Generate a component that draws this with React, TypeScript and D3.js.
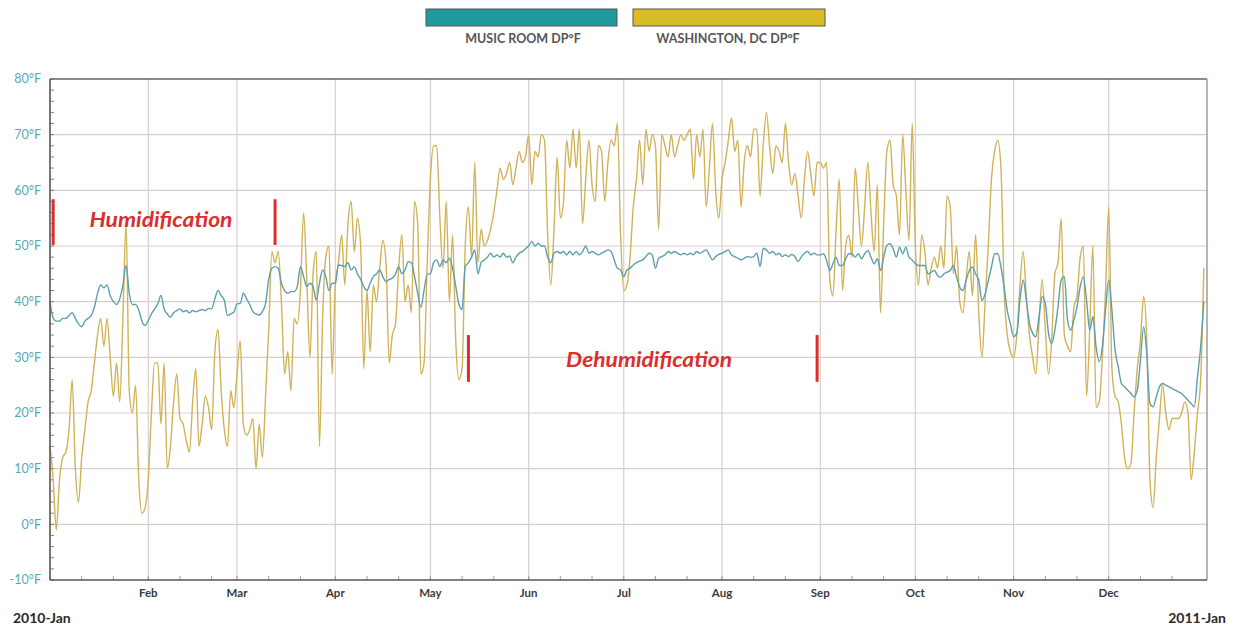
import React from 'react'
import * as d3 from 'd3'

// daily dew point readings, 2010 (°F)
const dcJan = [14, 8, -1, 8, 12, 13, 17, 26, 10, 4, 12, 17, 22, 24, 29, 34, 37, 32, 37, 30, 23, 29, 22, 37, 54, 24, 20, 25, 8, 2, 3]
const dcFeb = [8, 20, 29, 29, 18, 29, 10, 14, 22, 27, 19, 18, 15, 13, 22, 28, 14, 18, 23, 21, 17, 31, 35, 24, 17, 14, 24, 21]
const dcMar = [27, 33, 18, 16, 17, 19, 10, 18, 12, 23, 35, 49, 47, 49, 40, 27, 31, 24, 37, 36, 42, 56, 44, 30, 45, 49, 14, 37, 48, 50, 27]
const dcApr = [43, 47, 52, 43, 54, 58, 49, 55, 50, 28, 42, 31, 43, 40, 46, 51, 47, 29, 34, 36, 46, 52, 40, 43, 38, 58, 54, 27, 29, 47]
const dcMay = [62, 68, 68, 55, 46, 58, 40, 52, 33, 26, 28, 50, 57, 48, 65, 47, 53, 50, 51, 53, 56, 60, 64, 62, 63, 65, 61, 64, 67, 65, 66]
const dcJun = [70, 61, 67, 66, 70, 69, 52, 43, 53, 66, 55, 58, 69, 64, 71, 64, 71, 54, 62, 69, 61, 58, 68, 67, 58, 65, 69, 68, 72, 52]
const dcJul = [42, 43, 48, 57, 62, 69, 61, 71, 67, 70, 68, 53, 70, 68, 66, 70, 66, 68, 70, 69, 70, 71, 62, 70, 66, 71, 57, 64, 72, 60, 55]
const dcAug = [62, 65, 69, 73, 67, 69, 57, 65, 68, 66, 71, 71, 59, 68, 74, 68, 63, 68, 67, 65, 72, 65, 61, 63, 59, 55, 62, 67, 63, 59, 65]
const dcSep = [65, 64, 65, 44, 41, 53, 62, 42, 50, 52, 48, 64, 57, 50, 57, 65, 56, 49, 61, 38, 54, 67, 69, 61, 59, 52, 70, 60, 51, 72]
const dcOct = [50, 43, 52, 49, 43, 46, 48, 46, 50, 46, 59, 57, 45, 50, 40, 38, 44, 49, 41, 52, 38, 30, 40, 50, 62, 67, 69, 64, 42, 34, 31]
const dcNov = [30, 34, 43, 49, 41, 34, 30, 27, 36, 44, 35, 27, 33, 45, 47, 55, 34, 32, 31, 39, 41, 48, 50, 23, 35, 50, 21, 22, 30, 42]
const dcDec = [57, 28, 23, 22, 18, 12, 10, 11, 20, 28, 33, 41, 33, 8, 3, 12, 19, 25, 20, 17, 19, 19, 19, 20, 22, 20, 8, 13, 20, 26, 46]

const roomJan = [40, 37, 36.5, 36.5, 37, 37, 37.5, 38, 37, 36, 35.5, 36.5, 37, 37.5, 39, 41.5, 43, 42.5, 43, 41, 40, 39.5, 40.5, 43, 46.5, 41.5, 39.5, 39.5, 38.5, 36.5, 35.7]
const roomFeb = [36.6, 37.8, 38.7, 39.6, 41.1, 38.7, 37.8, 37.2, 38, 38.4, 38.7, 38.2, 38.4, 38, 38.4, 38.2, 38.4, 38.6, 38.4, 38.8, 38.7, 40.5, 42, 41.1, 40.2, 37.5, 37.8, 38.1]
const roomMar = [39.6, 39.7, 41.5, 40.5, 39.5, 38.2, 37.8, 37.6, 38.2, 39.7, 44, 46, 46.3, 46, 43.3, 42, 41.5, 41.8, 41.8, 42.7, 46.3, 44.5, 42.7, 43.3, 42.7, 40.3, 43.3, 45.7, 44.5, 42, 43.3]
const roomApr = [43.3, 46.6, 46.5, 46.3, 47, 45.7, 46.3, 45, 44, 42.7, 42, 43.3, 44.5, 45, 45.7, 44.5, 43.6, 44, 44.2, 45, 46.3, 45, 45.7, 47.2, 47, 44.5, 41.5, 39, 42, 45]
const roomMay = [45, 47, 47.5, 46.3, 47.5, 47, 47.8, 46, 42.8, 39.5, 38.6, 46.3, 47, 48, 49.3, 45, 47, 47.5, 48, 48.7, 48, 48.4, 48, 48.7, 48, 48.2, 47, 48, 48.7, 49, 49.5]
const roomJun = [50, 50.8, 50, 50.5, 50, 50, 48, 47, 48.7, 49, 48.7, 49, 48.4, 49, 48.4, 49, 48.4, 49, 50, 48.7, 49, 48.7, 48.4, 48.7, 49, 49.3, 49, 47.5, 46, 45.7]
const roomJul = [44.5, 45.7, 46, 46.6, 47, 47.3, 47.5, 48.1, 48.7, 48.4, 46, 47.8, 48.1, 48.4, 49, 48.7, 49, 48.7, 48.4, 48.7, 48.4, 48.7, 48.4, 49, 48.7, 49, 49.3, 48.4, 47.5, 48.1, 48.5]
const roomAug = [48.7, 49, 49.3, 48.4, 48.1, 47.8, 47.5, 47.8, 48.1, 48, 48.1, 48.7, 46.3, 49.6, 49.3, 48.7, 49, 48.4, 48.7, 48.1, 48.4, 48.1, 48.5, 48.1, 47.2, 48, 48.7, 49, 48.4, 48.7, 48.4]
const roomSep = [48.4, 48.6, 47.4, 45.6, 46.8, 48, 46.5, 46.5, 47.7, 48.6, 48.6, 48, 48.6, 47.7, 48.6, 49.2, 48, 46.8, 47.7, 45.6, 48, 50.1, 50.4, 49.5, 48, 49.8, 48.6, 49.8, 48, 47.5]
const roomOct = [46.8, 46.5, 46.5, 46.5, 45, 45.3, 45.6, 44.7, 44.4, 45, 45.3, 45.6, 46.5, 44.4, 42.6, 42, 43.8, 45.6, 46.2, 45, 43.8, 40.2, 41.4, 43.8, 46.2, 48.6, 48.6, 46.2, 42.6, 38.4, 36]
const roomNov = [33.7, 34.3, 40.3, 43.9, 40.3, 36.1, 34.3, 33.7, 37.3, 40.9, 39.7, 34.3, 32.5, 34.9, 39.1, 43.9, 44.5, 36.7, 34.9, 36.7, 39.1, 42.7, 44.5, 40.3, 34.9, 37.3, 31.9, 29.2, 31.9, 38.5]
const roomDec = [43.9, 38.5, 31.3, 28.3, 25.3, 24.7, 24.1, 23.5, 22.9, 24.1, 29.5, 35.5, 30.7, 21.7, 21.1, 22.9, 24.7, 25.3, 25, 24.7, 24.4, 24.1, 23.8, 23.5, 22.9, 22.3, 21.7, 21.1, 26.5, 31.9, 40]

const seriesNames = ['MUSIC ROOM DP°F', 'WASHINGTON, DC DP°F']
const yTicks = [-10, 0, 10, 20, 30, 40, 50, 60, 70, 80]
const startLabel = '2010-Jan'
const endLabel = '2011-Jan'

// annotation spans: [date, low °F, high °F]
const humidMarks = [['2010-01-02', 50.2, 58.4], ['2010-03-13', 50.2, 58.4]]
const dehumidMarks = [['2010-05-13', 25.6, 34], ['2010-08-31', 25.6, 34]]
const humidLabel = ['Humidification', '2010-02-05', 53.5]
const dehumidLabel = ['Dehumidification', '2010-07-09', 28.3]

const W = 1237
const H = 627
const FONT = 'Lato, "Open Sans", sans-serif'

const App = () => {
  const start = new Date(Date.UTC(2010, 0, 1))
  const end = new Date(Date.UTC(2011, 0, 1))
  const days = d3.utcDay.range(start, end)
  const dc = [...dcJan, ...dcFeb, ...dcMar, ...dcApr, ...dcMay, ...dcJun, ...dcJul, ...dcAug, ...dcSep, ...dcOct, ...dcNov, ...dcDec]
  const room = [...roomJan, ...roomFeb, ...roomMar, ...roomApr, ...roomMay, ...roomJun, ...roomJul, ...roomAug, ...roomSep, ...roomOct, ...roomNov, ...roomDec]

  const x = d3.scaleUtc().domain([start, end]).range([50, 1207])
  const y = d3.scaleLinear().domain([-10, 80]).range([580, 79])

  const line = d3.line<number>()
    .x((_, i) => x(days[i]))
    .y((v) => y(v))
    .curve(d3.curveMonotoneX)

  const months = d3.utcMonth.range(d3.utcMonth.offset(start, 1), end)
  const minorX = days.filter((d) => [1, 11, 21].includes(d.getUTCDate()))
  const minorY = d3.range(-10, 81, 2)
  const fmt = d3.utcFormat('%b')
  const parse = d3.utcParse('%Y-%m-%d')

  const [x0, x1] = x.range()
  const [y0, y1] = y.range()

  return (
    <svg width={W} height={H} style={{position: 'absolute', left: 0, top: 0, background: '#fff'}}>
      {/* legend */}
      <rect x={426} y={9} width={191} height={17} fill="#21999e" stroke="#555" strokeWidth={1}/>
      <rect x={633} y={9} width={192} height={17} fill="#d9bd26" stroke="#555" strokeWidth={1}/>
      <text x={523} y={43} textAnchor="middle" fontFamily={FONT} fontWeight="bold" fontSize={12.5} fill="#555">{seriesNames[0]}</text>
      <text x={728} y={43} textAnchor="middle" fontFamily={FONT} fontWeight="bold" fontSize={12.5} fill="#555">{seriesNames[1]}</text>

      {/* grid */}
      {yTicks.slice(1, -1).map((t) => (
        <line key={'gy' + t} x1={x0} x2={x1} y1={y(t)} y2={y(t)} stroke="#d8cfcd" strokeWidth={1.2}/>
      ))}
      {months.map((m) => (
        <line key={'gx' + m.getTime()} x1={x(m)} x2={x(m)} y1={y1} y2={y0} stroke="#d8cfcd" strokeWidth={1.2}/>
      ))}

      {/* minor ticks */}
      {minorY.map((t) => (
        <line key={'my' + t} x1={x0} x2={x0 + 4} y1={y(t)} y2={y(t)} stroke="#6b6261" strokeWidth={0.8}/>
      ))}
      {minorX.map((d) => (
        <line key={'mx' + d.getTime()} x1={x(d)} x2={x(d)} y1={y0} y2={y0 - 4} stroke="#8a8180" strokeWidth={0.8}/>
      ))}

      {/* series */}
      <path d={line(dc)} fill="none" stroke="#d2b257" strokeWidth={1.4}/>
      <path d={line(room)} fill="none" stroke="#5d9fae" strokeWidth={1.4}/>

      {/* frame */}
      <line x1={x0} x2={x1} y1={y1} y2={y1} stroke="#6a6160" strokeWidth={1.6}/>
      <line x1={x1} x2={x1} y1={y1} y2={y0} stroke="#9a9494" strokeWidth={1.4}/>
      <line x1={x0} x2={x0} y1={y1} y2={y0} stroke="#5e5553" strokeWidth={1.6}/>
      <line x1={x0} x2={x1} y1={y0} y2={y0} stroke="#5e5553" strokeWidth={1.6}/>

      {/* annotations */}
      {[...humidMarks, ...dehumidMarks].map(([d, lo, hi]) => (
        <line key={'an' + d} x1={x(parse(d as string)!)} x2={x(parse(d as string)!)} y1={y(lo as number)} y2={y(hi as number)} stroke="#d8302c" strokeWidth={3}/>
      ))}
      {[humidLabel, dehumidLabel].map(([t, d, v]) => (
        <text key={t as string} x={x(parse(d as string)!)} y={y(v as number)} textAnchor="middle" fontFamily={FONT}
          fontWeight="bold" fontStyle="italic" fontSize={21}
          textLength={t === 'Humidification' ? 143 : 166} lengthAdjust="spacingAndGlyphs" fill="#d8302c">{t}</text>
      ))}

      {/* y axis labels */}
      {yTicks.map((t) => (
        <text key={'yl' + t} x={41} y={y(t)} dy="0.35em" textAnchor="end" fontFamily={FONT} fontSize={12.5} fill="#5aa8b6">{`${t}°F`}</text>
      ))}

      {/* x axis labels */}
      {months.map((m) => (
        <text key={'xl' + m.getTime()} x={x(m)} y={597} textAnchor="middle" fontFamily={FONT} fontWeight="bold" fontSize={11.5} fill="#3a3a3a">{fmt(m)}</text>
      ))}
      <text x={13} y={623} fontFamily={FONT} fontWeight="bold" fontSize={14} fill="#2a2a2a">{startLabel}</text>
      <text x={1226} y={623} textAnchor="end" fontFamily={FONT} fontWeight="bold" fontSize={14} fill="#2a2a2a">{endLabel}</text>
    </svg>
  )
}

export default App
